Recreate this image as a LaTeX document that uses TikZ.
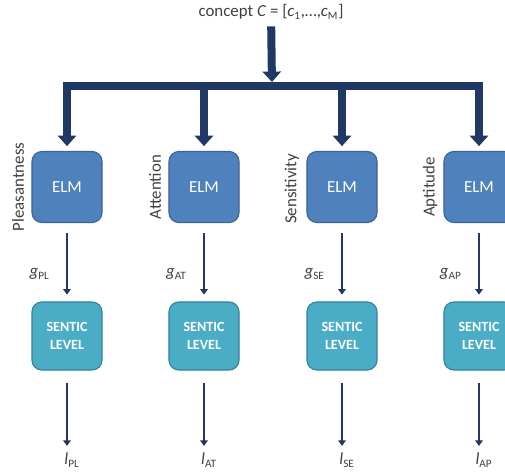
\documentclass[tikz,border=0pt]{standalone}
\usepackage{fontspec}
\setmainfont{Carlito}
\usetikzlibrary{arrows.meta}
\definecolor{elmblue}{HTML}{4F81BD}
\definecolor{elmedge}{HTML}{3A6399}
\definecolor{senticteal}{HTML}{4BACC6}
\definecolor{senticedge}{HTML}{31849B}
\definecolor{navy}{HTML}{1F3864}
\definecolor{textgray}{HTML}{404040}

\begin{document}
\begin{tikzpicture}[x=0.025cm, y=-0.025cm,
    elm/.style={draw=elmedge, fill=elmblue, line width=0.8pt, rounded corners=7pt,
        minimum width=1.75cm, minimum height=1.775cm, text=white,
        font=\fontsize{12}{14}\selectfont},
    sentic/.style={draw=senticedge, fill=senticteal, line width=0.8pt, rounded corners=7pt,
        minimum width=1.75cm, minimum height=1.7cm, text=white, align=center,
        font=\fontsize{10}{12.5}\selectfont\bfseries},
    bigline/.style={draw=navy, line width=0.2cm},
    bigarrow/.style={bigline, -{Triangle[width=0.45cm, length=0.26cm]}},
    thinarrow/.style={draw=navy, line width=2pt, -{Triangle[width=5.5pt, length=4pt]}},
    side/.style={text=textgray, rotate=90, font=\fontsize{12}{14}\selectfont},
    lbl/.style={text=textgray, font=\fontsize{12}{14}\selectfont}]
                    \clip (0,0) rectangle (505,474);
                    \node[lbl] (concept) at (271,12)
                        {concept \textit{C} = [\textit{c}\textsubscript{1},…,\textit{c}\textsubscript{M}]};
                    \coordinate (bar) at (272,86);
                    % ELM boxes
                    \node[elm] (elmPL) at (67,187) {ELM};
                    \node[elm] (elmAT) at (204,187) {ELM};
                    \node[elm] (elmSE) at (342,187) {ELM};
                    \node[elm] (elmAP) at (479,187) {ELM};
                    \node[side] (pPL) at (18,187) {Pleasantness};
                    \node[side] (pAT) at (155,187) {Attention};
                    \node[side] (pSE) at (292,189) {Sensitivity};
                    \node[side] (pAP) at (430,187) {Aptitude};
                    % sentic levels
                    \node[sentic] (sPL) at (67,336) {SENTIC\\LEVEL};
                    \node[sentic] (sAT) at (204,336) {SENTIC\\LEVEL};
                    \node[sentic] (sSE) at (342,336) {SENTIC\\LEVEL};
                    \node[sentic] (sAP) at (479,336) {SENTIC\\LEVEL};
                    \node[lbl] (lPL) at (72,460) {\textit{l}\textsubscript{PL}};
                    \node[lbl] (lAT) at (209,460) {\textit{l}\textsubscript{AT}};
                    \node[lbl] (lSE) at (347,460) {\textit{l}\textsubscript{SE}};
                    \node[lbl] (lAP) at (484,460) {\textit{l}\textsubscript{AP}};
                    % thick arrows
                    \draw[bigarrow, shorten <=0.05cm, shorten >=0.1cm] (concept) -- (bar);
                    \draw[bigline, line cap=rect] (elmPL |- bar) -- (elmAP |- bar);
                    \draw[bigarrow, shorten >=0.12cm] (elmPL |- bar) -- (elmPL);
                    \draw[bigarrow, shorten >=0.12cm] (elmAT |- bar) -- (elmAT);
                    \draw[bigarrow, shorten >=0.12cm] (elmSE |- bar) -- (elmSE);
                    \draw[bigarrow, shorten >=0.12cm] (elmAP |- bar) -- (elmAP);
                    % thin arrows
                    \draw[thinarrow, shorten <=0.25cm, shorten >=0.17cm] (elmPL) --
                        node[lbl, left=8pt, pos=0.65] (gPL) {\textit{g}\textsubscript{PL}} (sPL);
                    \draw[thinarrow, shorten <=0.25cm, shorten >=0.17cm] (elmAT) --
                        node[lbl, left=8pt, pos=0.65] (gAT) {\textit{g}\textsubscript{AT}} (sAT);
                    \draw[thinarrow, shorten <=0.25cm, shorten >=0.17cm] (elmSE) --
                        node[lbl, left=8pt, pos=0.65] (gSE) {\textit{g}\textsubscript{SE}} (sSE);
                    \draw[thinarrow, shorten <=0.25cm, shorten >=0.17cm] (elmAP) --
                        node[lbl, left=8pt, pos=0.65] (gAP) {\textit{g}\textsubscript{AP}} (sAP);
                    \draw[thinarrow, shorten <=0.3cm, shorten >=0.05cm] (sPL) -- (sPL |- lPL.north);
                    \draw[thinarrow, shorten <=0.3cm, shorten >=0.05cm] (sAT) -- (sAT |- lAT.north);
                    \draw[thinarrow, shorten <=0.3cm, shorten >=0.05cm] (sSE) -- (sSE |- lSE.north);
                    \draw[thinarrow, shorten <=0.3cm, shorten >=0.05cm] (sAP) -- (sAP |- lAP.north);
                \end{tikzpicture}
\end{document}
